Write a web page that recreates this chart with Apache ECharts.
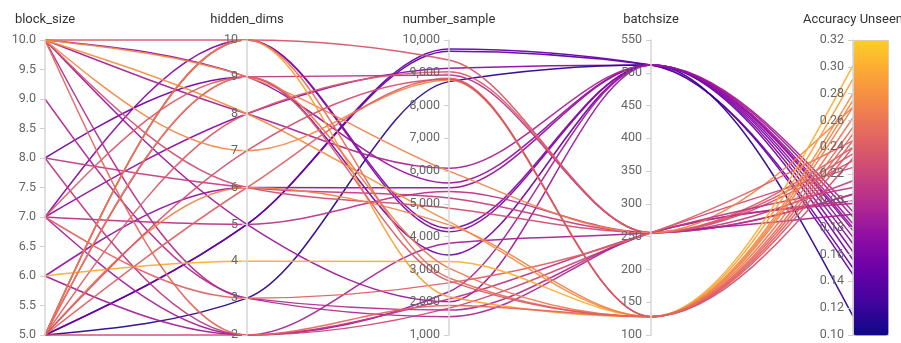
<!DOCTYPE html>
<html>
<head>
<meta charset="utf-8">
<script src="https://cdn.jsdelivr.net/npm/echarts@6/dist/echarts.min.js"></script>
<style>
  html, body { margin: 0; padding: 0; background: #fff; }
  #chart { width: 901px; height: 343px; }
</style>
</head>
<body>
<div id="chart"></div>
<script>
// Axis names of the parallel plot
const dimensions = ['block_size', 'hidden_dims', 'number_sample', 'batchsize', 'Accuracy Unseen'];

// One entry per run, column by column
const blockSize = [5, 5, 7, 5, 5, 7, 10, 8, 10, 6, 10, 6,
                   10, 8, 7, 5, 10, 9, 5, 7, 10, 5, 10, 8, 7,
                   6, 5, 10, 10, 5, 5, 5, 5, 7, 5, 10];
const hiddenDims = [5, 5, 8, 3, 10, 10, 9, 9, 8, 2, 5, 6,
                    10, 6, 5, 2, 3, 3, 9, 2, 6, 8, 9, 2, 3,
                    4, 10, 7, 8, 6, 9, 10, 6, 9, 7, 2];
const numberSample = [9725, 9660, 9137, 8730, 4150, 4260, 5640, 3440, 6085, 2320, 2015, 5490,
                      9390, 5180, 5380, 1820, 1760, 1560, 8930, 3800, 4870, 9030, 6000, 2100, 2590,
                      3240, 2170, 8780, 4460, 4360, 3040, 2740, 8830, 2650, 8800, 1900];
const batchSize = [512, 512, 512, 512, 512, 512, 512, 512, 512, 512, 512, 512,
                   256, 256, 256, 256, 256, 256, 256, 256, 256, 256, 256, 256, 256,
                   128, 128, 128, 128, 128, 128, 128, 128, 128, 128, 128];
const accuracy = [0.150, 0.145, 0.173, 0.114, 0.162, 0.168, 0.180, 0.156, 0.192, 0.188, 0.183, 0.178,
                  0.235, 0.215, 0.205, 0.225, 0.200, 0.198, 0.205, 0.190, 0.230, 0.240, 0.270, 0.210, 0.245,
                  0.301, 0.291, 0.275, 0.280, 0.270, 0.262, 0.255, 0.245, 0.240, 0.232, 0.250];

// Plasma-style ramp used for the accuracy colour scale
const plasma = ['#0d0887', '#41049d', '#6a00a8', '#8f0da4', '#b12a90',
                '#cc4778', '#e16462', '#f2844b', '#fca636', '#fcce25'];

const rows = blockSize.map((b, i) => [b, hiddenDims[i], numberSample[i], batchSize[i], accuracy[i]]);

const FONT = 'Roboto';
const axisCommon = {
  nameLocation: 'end',
  nameGap: 14,
  nameTextStyle: { color: '#333', fontSize: 13, fontFamily: FONT },
  axisLine: { lineStyle: { color: '#d6d6d6', width: 1.5 } },
  // ticks and labels sit on the left-hand side of each axis
  axisTick: { length: -5, lineStyle: { color: '#cfcfcf' } },
  axisLabel: { margin: -9, align: 'right', color: '#666', fontSize: 12.5, fontFamily: FONT },
  splitLine: { show: false }
};

const chart = echarts.init(document.getElementById('chart'), null, { renderer: 'canvas' });
chart.setOption({
  animation: false,
  parallel: {
    left: 45, right: 48, top: 40, bottom: 8,
    parallelAxisDefault: axisCommon
  },
  parallelAxis: [
    { dim: 0, name: dimensions[0], min: 5, max: 10, interval: 0.5,
      axisLabel: { formatter: v => v.toFixed(1) } },
    { dim: 1, name: dimensions[1], min: 2, max: 10, interval: 1 },
    { dim: 2, name: dimensions[2], min: 1000, max: 10000, interval: 1000,
      axisLabel: { formatter: v => v.toLocaleString('en-US') } },
    { dim: 3, name: dimensions[3], min: 100, max: 550, interval: 50 },
    { dim: 4, name: dimensions[4], min: 0.10, max: 0.32, interval: 0.02,
      axisLabel: { formatter: v => v.toFixed(2) } }
  ],
  visualMap: {
    type: 'continuous',
    dimension: 4,
    min: 0.10, max: 0.32,
    right: 12, top: 40,
    itemWidth: 35, itemHeight: 295,
    padding: 0,
    text: null,
    showLabel: false,
    calculable: false,
    borderColor: '#d0d0d0', borderWidth: 1,
    inRange: { color: plasma }
  },
  series: [{
    type: 'parallel',
    smooth: false,
    lineStyle: { width: 1.5, opacity: 0.95 },
    data: rows
  }]
});

// Redraw each run's polyline as a monotone cubic curve (no overshoot past the axis values)
function monotoneBuildPath(ctx, shape) {
  const p = shape.points;
  const n = p.length;
  const sgn = v => (v < 0 ? -1 : 1);
  const h = [], s = [], t = new Array(n);
  for (let i = 0; i < n - 1; i++) {
    h[i] = p[i + 1][0] - p[i][0];
    s[i] = (p[i + 1][1] - p[i][1]) / h[i];
  }
  for (let i = 1; i < n - 1; i++) {
    const q = (s[i - 1] * h[i] + s[i] * h[i - 1]) / (h[i - 1] + h[i]);
    t[i] = (sgn(s[i - 1]) + sgn(s[i])) *
      Math.min(Math.abs(s[i - 1]), Math.abs(s[i]), 0.5 * Math.abs(q)) || 0;
  }
  t[0] = (3 * s[0] - t[1]) / 2;
  t[n - 1] = (3 * s[n - 2] - t[n - 2]) / 2;
  ctx.moveTo(p[0][0], p[0][1]);
  for (let i = 0; i < n - 1; i++) {
    const dx = h[i] / 3;
    ctx.bezierCurveTo(p[i][0] + dx, p[i][1] + dx * t[i],
                      p[i + 1][0] - dx, p[i + 1][1] - dx * t[i + 1],
                      p[i + 1][0], p[i + 1][1]);
  }
}
chart.getZr().storage.getDisplayList(true).forEach(el => {
  const pts = el.shape && el.shape.points;
  if (el.type && el.type.indexOf('polyline') >= 0 && pts && pts.length === dimensions.length &&
      pts.every((q, i) => i === 0 || q[0] > pts[i - 1][0])) {
    el.buildPath = monotoneBuildPath;
    el.dirtyShape();
  }
});
chart.getZr().refresh();
</script>
</body>
</html>
